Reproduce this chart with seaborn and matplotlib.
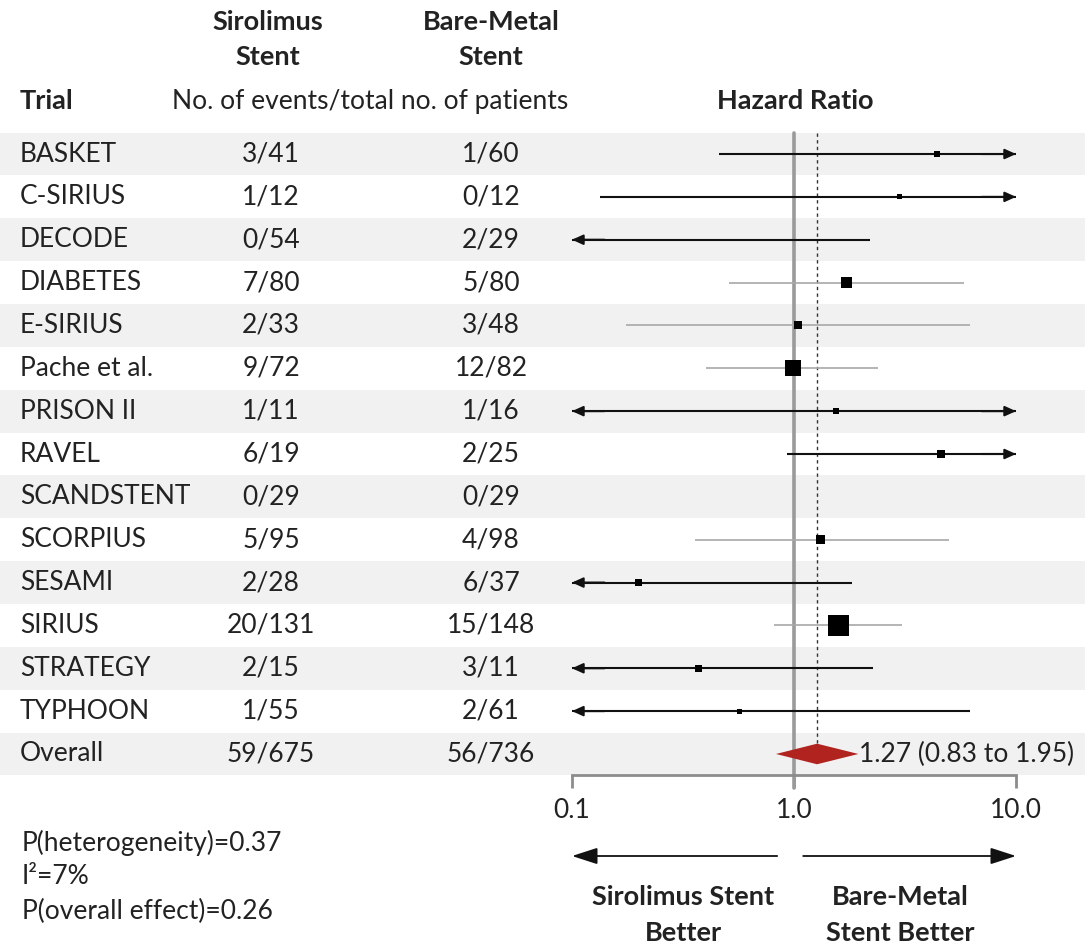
import numpy as np
import matplotlib
matplotlib.use("Agg")
import matplotlib.pyplot as plt
from matplotlib import transforms
from matplotlib.ticker import NullLocator
import seaborn as sns
import pandas as pd

# ---------------- data ----------------
trials = ["BASKET", "C-SIRIUS", "DECODE", "DIABETES", "E-SIRIUS", "Pache et al.",
          "PRISON II", "RAVEL", "SCANDSTENT", "SCORPIUS", "SESAMI", "SIRIUS",
          "STRATEGY", "TYPHOON"]
siro_events = [3, 1, 0, 7, 2, 9, 1, 6, 0, 5, 2, 20, 2, 1]
siro_total = [41, 12, 54, 80, 33, 72, 11, 19, 29, 95, 28, 131, 15, 55]
bms_events = [1, 0, 2, 5, 3, 12, 1, 2, 0, 4, 6, 15, 3, 2]
bms_total = [60, 12, 29, 80, 48, 82, 16, 25, 29, 98, 37, 148, 11, 61]
hazard_ratio = [4.41, 3.0, np.nan, 1.72, 1.04, 0.99, 1.55, 4.61, np.nan, 1.32, 0.20, 1.58, 0.37, 0.57]
ci_low = [0.46, 0.134, 0.03, 0.51, 0.175, 0.40, 0.03, 0.93, np.nan, 0.36, 0.03, 0.81, 0.03, 0.03]
ci_high = [30.0, 30.0, 2.2, 5.84, 6.22, 2.38, 30.0, 30.0, np.nan, 5.0, 1.82, 3.08, 2.27, 6.18]
weights = [2.9, 2.0, np.nan, 9.7, 5.1, 20.5, 2.9, 5.1, np.nan, 6.5, 3.9, 35.4, 3.9, 2.0]
overall_label = "Overall"
overall_events = ["59/675", "56/736"]
overall_hr, overall_lo, overall_hi = 1.27, 0.83, 1.95
x_ticks = [0.1, 1.0, 10.0]
x_tick_labels = ["0.1", "1.0", "10.0"]
stats_lines = ["P(heterogeneity)=0.37", "I\u00b2=7%", "P(overall effect)=0.26"]

# ---------------- style ----------------
sns.set_theme(style="white")
plt.rcParams["font.family"] = ["Lato", "DejaVu Sans"]
TXT = "#222222"
FS = 19
FSB = 19.5

W, H = 1092, 946
fig = plt.figure(figsize=(W / 100, H / 100), dpi=100)
top_px, bot_px = 132.6, 775.4
left_px, right_px = 572, 1016
ax = fig.add_axes([left_px / W, 1 - bot_px / H, (right_px - left_px) / W, (bot_px - top_px) / H])
ax.patch.set_alpha(0)
ax.set_xscale("log")
ax.set_xlim(0.1, 10)
n = len(trials) + 1
ax.set_ylim(n - 0.5, -0.5)

# shaded bands
for i in range(0, n, 2):
    ax.axhspan(i - 0.5, i + 0.5, xmin=-left_px / (right_px - left_px),
               xmax=(1085 - left_px) / (right_px - left_px),
               color="#f1f1f1", zorder=0, clip_on=False, lw=0)

# reference lines
ax.axvline(1.0, ymin=-(788 - bot_px) / (bot_px - top_px), ymax=1, color="#9a9a9a",
           lw=2.6, zorder=1, clip_on=False)
ax.vlines(overall_hr, -0.5, n - 1 - 0.25, colors="#333333", linestyles=(0, (2.4, 2.4)),
          lw=1.0, zorder=2)

# confidence intervals
for i in range(len(trials)):
    lo, hi = ci_low[i], ci_high[i]
    if np.isnan(lo):
        continue
    left_arrow = lo < 0.1
    right_arrow = hi > 10
    dark = left_arrow or right_arrow
    col = "#111111" if dark else "#a8a8a8"
    lw = 1.5 if dark else 1.2
    lo_c, hi_c = max(lo, 0.1), min(hi, 10)
    ax.plot([lo_c, hi_c], [i, i], color=col, lw=lw, zorder=3, solid_capstyle="butt")
    ap = dict(arrowstyle="-|>,head_length=0.55,head_width=0.25", color=col, lw=lw,
              shrinkA=0, shrinkB=0)
    if left_arrow:
        ax.annotate("", xy=(0.1, i), xytext=(0.14, i), arrowprops=ap, zorder=4,
                    annotation_clip=False)
    if right_arrow:
        ax.annotate("", xy=(10, i), xytext=(7, i), arrowprops=ap, zorder=4,
                    annotation_clip=False)

# point estimates (square area proportional to weight)
df = pd.DataFrame({"hr": hazard_ratio, "row": range(len(trials)), "w": weights}).dropna()
k = 6.5
sns.scatterplot(data=df, x="hr", y="row", size="w", sizes=(0, df["w"].max() * k),
                size_norm=(0, df["w"].max()), marker="s", color="black",
                linewidth=0, legend=False, ax=ax, zorder=5)

# overall diamond
r = n - 1
ax.fill([overall_lo, overall_hr, overall_hi, overall_hr], [r, r - 0.24, r, r + 0.24],
        color="#b0231f", lw=0, zorder=6)
ax.text(overall_hi * 1.005, r, "1.27 (0.83 to 1.95)", ha="left", va="center",
        fontsize=FS, color=TXT, zorder=7)

# axis styling
for s in ["top", "left", "right"]:
    ax.spines[s].set_visible(False)
ax.spines["bottom"].set_color("#8c8c8c")
ax.spines["bottom"].set_linewidth(2)
ax.set_xticks(x_ticks)
ax.set_xticklabels(x_tick_labels)
ax.xaxis.set_minor_locator(NullLocator())
ax.tick_params(axis="x", direction="out", length=9.5, width=2, color="#8c8c8c",
               labelsize=FS, labelcolor=TXT, pad=7, bottom=True)
ax.set_yticks([])
ax.set_xlabel("")
ax.set_ylabel("")

# table text
trans = transforms.blended_transform_factory(fig.transFigure, ax.transData)
names = trials + [overall_label]
col1 = [f"{e}/{t}" for e, t in zip(siro_events, siro_total)] + [overall_events[0]]
col2 = [f"{e}/{t}" for e, t in zip(bms_events, bms_total)] + [overall_events[1]]
for i in range(n):
    ax.text(20 / W, i, names[i], transform=trans, ha="left", va="center", fontsize=FS,
            color=TXT, clip_on=False)
    ax.text(271 / W, i, col1[i], transform=trans, ha="center", va="center", fontsize=FS,
            color=TXT, clip_on=False)
    ax.text(491 / W, i, col2[i], transform=trans, ha="center", va="center", fontsize=FS,
            color=TXT, clip_on=False)

def ftext(x, y, s, **kw):
    kw.setdefault("fontsize", FS)
    kw.setdefault("color", TXT)
    fig.text(x / W, 1 - y / H, s, va="center", **kw)

ftext(268, 22, "Sirolimus", ha="center", fontweight="bold", fontsize=FSB)
ftext(268, 57, "Stent", ha="center", fontweight="bold", fontsize=FSB)
ftext(491, 22, "Bare-Metal", ha="center", fontweight="bold", fontsize=FSB)
ftext(491, 57, "Stent", ha="center", fontweight="bold", fontsize=FSB)
ftext(20, 101, "Trial", ha="left", fontweight="bold", fontsize=FSB)
ftext(370, 101, "No. of events/total no. of patients", ha="center")
ftext(795, 101, "Hazard Ratio", ha="center", fontweight="bold", fontsize=FSB)

for j, s in enumerate(stats_lines):
    ftext(22, 843 + 34 * j, s, ha="left")

# direction arrows
arr_row = (856 - top_px) / ((bot_px - top_px) / n) - 0.5
big = dict(arrowstyle="-|>,head_length=1.3,head_width=0.42", color="#111111", lw=1.3,
           shrinkA=0, shrinkB=0)
ax.annotate("", xy=(0.1, arr_row), xytext=(0.84, arr_row), arrowprops=big,
            annotation_clip=False)
ax.annotate("", xy=(10, arr_row), xytext=(1.1, arr_row), arrowprops=big,
            annotation_clip=False)
ftext(683, 897, "Sirolimus Stent", ha="center", fontweight="bold", fontsize=FSB)
ftext(683, 933, "Better", ha="center", fontweight="bold", fontsize=FSB)
ftext(900, 897, "Bare-Metal", ha="center", fontweight="bold", fontsize=FSB)
ftext(900, 933, "Stent Better", ha="center", fontweight="bold", fontsize=FSB)

fig.savefig("out.png", dpi=100)
